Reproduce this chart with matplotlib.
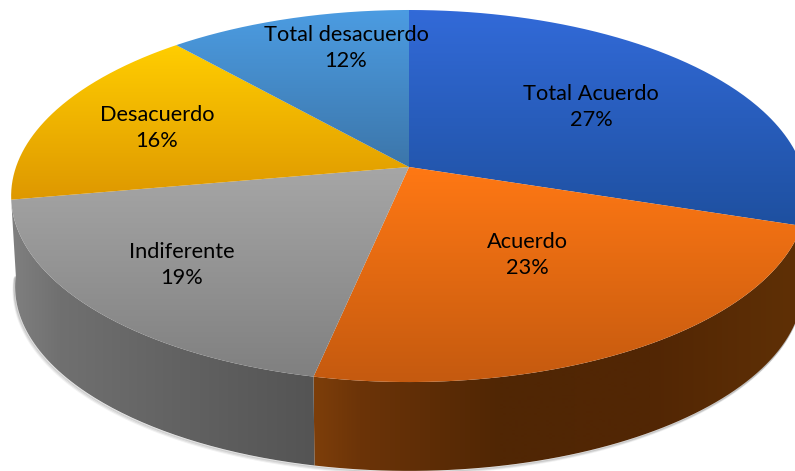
import numpy as np
import matplotlib
matplotlib.use("Agg")
import matplotlib.pyplot as plt
from matplotlib.path import Path
from matplotlib.patches import PathPatch

# slice sizes as drawn (the printed labels do not add up to 100)
categories = ["Total Acuerdo", "Acuerdo", "Indiferente", "Desacuerdo", "Total desacuerdo"]
shares = [30, 23.3, 18.9, 16.3, 11.5]
printed_pct = [27, 23, 19, 16, 12]

top_colors = [((50, 106, 216), (30, 80, 160)),
              ((255, 120, 20), (197, 90, 15)),
              ((166, 166, 166), (128, 128, 128)),
              ((255, 205, 0), (222, 152, 0)),
              ((76, 156, 226), (60, 118, 170))]
label_xy = [(591, 107), (527, 255), (182, 265), (157, 128), (346, 48)]

# pie projection, in image pixels
x0, y0 = 409, 167
rx, ry, persp = 393, 181.5, 0.156
depth = 91

side_stops = {1: ([315, 360, 500, 650, 795], [(125, 62, 10), (108, 52, 8), (80, 38, 4), (82, 38, 4), (95, 48, 6)]),
              2: ([10, 60, 180, 315], [(128, 128, 128), (112, 112, 112), (98, 98, 98), (84, 84, 84)])}
# the lower rim of the grey wall runs on a little so the outline closes
rim_extra = {1: 0.0, 2: 0.08}


def project(t, shift=0.0, scale=1.0):
    u, v = np.sin(t), np.cos(t)
    w = 1 + persp * v
    return x0 + scale * rx * u / w, y0 + shift - scale * ry * v / w


def clip_gradient(ax, path, img, extent, z):
    patch = PathPatch(path, fc="none", ec="none", transform=ax.transData)
    ax.add_patch(patch)
    im = ax.imshow(img, extent=extent, aspect="auto", interpolation="bilinear", zorder=z)
    im.set_clip_path(patch)


fig = plt.figure(figsize=(7.95, 4.71), dpi=100)
ax = fig.add_axes([0, 0, 1, 1])
ax.axis("off")

edges = np.cumsum([0] + shares) / sum(shares) * 2 * np.pi

# side wall, only the two front slices show it
for i in side_stops:
    t = np.linspace(edges[i], edges[i + 1], 120)
    t_rim = np.linspace(edges[i + 1] + rim_extra[i], edges[i], 120)
    xt, yt = project(t)
    xb, yb = project(t_rim, depth, 0.99)
    pts = np.r_[np.c_[xt, yt], np.c_[xb, yb], [[xt[0], yt[0]]]]

    # soft shadow under the wall
    for off, a in zip([3, 2, 1], [0.08, 0.14, 0.22]):
        ax.add_patch(PathPatch(Path(np.c_[xb - off * 0.6, yb + off]), fc="none", ec="#555555",
                               lw=1.2, alpha=a, zorder=1))

    stop_x, stop_c = side_stops[i]
    cols = np.arange(0, 796)
    img = np.stack([np.interp(cols, stop_x, [c[k] for c in stop_c]) for k in range(3)], axis=1)
    clip_gradient(ax, Path(pts), img[None, :, :] / 255, (0, 795, 471, 0), 2)

# top face
for i, cat in enumerate(categories):
    t = np.linspace(edges[i], edges[i + 1], 160)
    xt, yt = project(t)
    pts = np.r_[[[x0, y0]], np.c_[xt, yt], [[x0, y0]]]
    c1, c2 = top_colors[i]
    ramp = np.linspace(0, 1, 64)[:, None]
    img = (np.array(c1)[None, :] * (1 - ramp) + np.array(c2)[None, :] * ramp) / 255
    clip_gradient(ax, Path(pts), img[:, None, :], (0, 795, pts[:, 1].max(), pts[:, 1].min()), 3)

for cat, pct, (lx, ly) in zip(categories, printed_pct, label_xy):
    ax.text(lx, ly, f"{cat}\n{pct}%", ha="center", va="center", family="Lato", fontsize=15.7,
            color="black", linespacing=1.4, zorder=5)

ax.set_xlim(0, 795)
ax.set_ylim(471, 0)
fig.savefig("out.png", dpi=100, facecolor="white")
